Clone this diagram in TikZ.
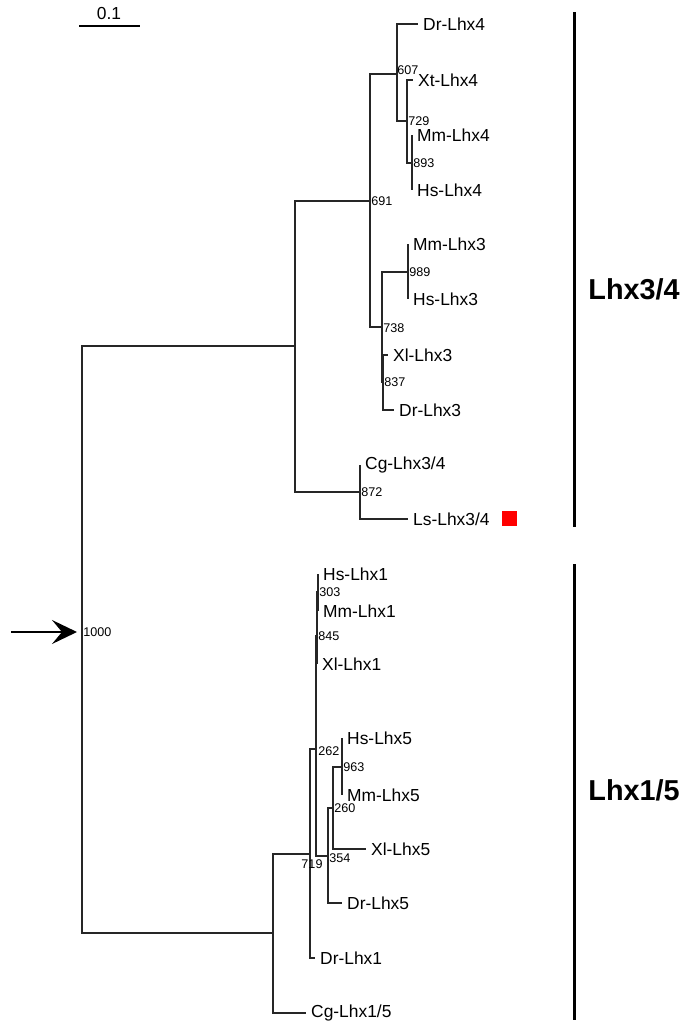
\documentclass[tikz,border=0pt]{standalone}
\usepackage{fontspec}
\setmainfont{Liberation Sans}
\usepackage{xcolor}
\usepackage{tikz}
\usetikzlibrary{arrows.meta}

\begin{document}
\begin{tikzpicture}[x=0.5pt,y=-0.5pt]
\tikzstyle{branch} = [line width=0.6pt, draw=black!85]
\tikzstyle{thickbranch} = [branch, line width=1.1pt]
\tikzstyle{leaf} = [anchor=west, inner xsep=2.4pt, inner ysep=0pt, font=\fontsize{8.7}{10}\selectfont]
\tikzstyle{boot} = [anchor=west, inner sep=0.5pt, font=\fontsize{6.3}{7}\selectfont]
\tikzstyle{clade} = [anchor=west, inner sep=0pt, font=\bfseries\fontsize{14.4}{16}\selectfont]
\tikzstyle{cladebar} = [line width=1.5pt]
%
\useasboundingbox (0,0) rectangle (685,1024);

	% internal nodes
	\coordinate (r) at (82,632);
	\coordinate (c34) at (295,346);
	\coordinate (n691) at (370,201);
	\coordinate (n607) at (397,74);
	\coordinate (n729) at (407,121);
	\coordinate (n893) at (412,163);
	\coordinate (n738) at (382,327);
	\coordinate (n989) at (408,272);
	\coordinate (n837) at (383,382);
	\coordinate (n872) at (360,492);
	\coordinate (c15) at (273,933);
	\coordinate (n719) at (310,854);
	\coordinate (n262) at (316,749);
	\coordinate (n845) at (317,636);
	\coordinate (n303) at (318,592);
	\coordinate (n354) at (328,856);
	\coordinate (n260) at (333,808);
	\coordinate (n963) at (342,767);

	% leaves
	\node[leaf] (drlhx4) at (418,24) {Dr-Lhx4};
	\node[leaf] (xtlhx4) at (413,80) {Xt-Lhx4};
	\node[leaf] (mmlhx4) at (412,135) {Mm-Lhx4};
	\node[leaf] (hslhx4) at (412,190) {Hs-Lhx4};
	\node[leaf] (mmlhx3) at (408,244) {Mm-Lhx3};
	\node[leaf] (hslhx3) at (408,299) {Hs-Lhx3};
	\node[leaf] (xllhx3) at (388,355) {Xl-Lhx3};
	\node[leaf] (drlhx3) at (394,410) {Dr-Lhx3};
	\node[leaf] (cglhx34) at (360,465) {Cg-Lhx3/4};
	\node[leaf] (lslhx34) at (408,519) {Ls-Lhx3/4};
	\node[leaf] (hslhx1) at (318,574) {Hs-Lhx1};
	\node[leaf] (mmlhx1) at (318,611) {Mm-Lhx1};
	\node[leaf] (xllhx1) at (317,664) {Xl-Lhx1};
	\node[leaf] (hslhx5) at (342,738) {Hs-Lhx5};
	\node[leaf] (mmlhx5) at (342,795) {Mm-Lhx5};
	\node[leaf] (xllhx5) at (366,849) {Xl-Lhx5};
	\node[leaf] (drlhx5) at (342,903) {Dr-Lhx5};
	\node[leaf] (drlhx1) at (315,958) {Dr-Lhx1};
	\node[leaf] (cglhx15) at (306,1013) {Cg-Lhx1/5};

	% branches
	\draw[branch] (r) |- (c34);
	\draw[branch] (r) |- (c15);
	\draw[branch] (c34) |- (n691);
	\draw[branch] (c34) |- (n872);
	\draw[branch] (n691) |- (n607);
	\draw[branch] (n691) |- (n738);
	\draw[branch] (n607) |- (drlhx4.west);
	\draw[branch] (n607) |- (n729);
	\draw[branch] (n729) |- (xtlhx4.west);
	\draw[branch] (n729) |- (n893);
	\draw[branch] (n893) |- (mmlhx4.west);
	\draw[branch] (n893) |- (hslhx4.west);
	\draw[branch] (n738) |- (n989);
	\draw[branch] (n738) |- (n837);
	\draw[branch] (n989) |- (mmlhx3.west);
	\draw[branch] (n989) |- (hslhx3.west);
	\draw[thickbranch] (n837) |- (xllhx3.west);
	\draw[thickbranch] (n837) |- (drlhx3.west);
	\draw[branch] (n872) |- (cglhx34.west);
	\draw[branch] (n872) |- (lslhx34.west);
	\draw[branch] (c15) |- (n719);
	\draw[branch] (c15) |- (cglhx15.west);
	\draw[branch] (n719) |- (n262);
	\draw[branch] (n719) |- (drlhx1.west);
	\draw[branch] (n262) |- (n845);
	\draw[branch] (n262) |- (n354);
	\draw[thickbranch] (n845) |- (n303);
	\draw[thickbranch] (n845) |- (xllhx1.west);
	\draw[thickbranch] (n303) |- (hslhx1.west);
	\draw[thickbranch] (n303) |- (mmlhx1.west);
	\draw[branch] (n354) |- (n260);
	\draw[branch] (n354) |- (drlhx5.west);
	\draw[branch] (n260) |- (n963);
	\draw[branch] (n260) |- (xllhx5.west);
	\draw[branch] (n963) |- (hslhx5.west);
	\draw[branch] (n963) |- (mmlhx5.west);

	% bootstrap values
	\node[boot] (b1000) at (r) {1000};
	\node[boot] (b691) at (n691) {691};
	\node[boot] (b607) at (396,70) {607};
	\node[boot] (b729) at (n729) {729};
	\node[boot] (b893) at (n893) {893};
	\node[boot] (b738) at (382,328) {738};
	\node[boot] (b989) at (n989) {989};
	\node[boot] (b837) at (n837) {837};
	\node[boot] (b872) at (n872) {872};
	\node[boot] (b303) at (n303) {303};
	\node[boot] (b845) at (n845) {845};
	\node[boot] (b262) at (317,751) {262};
	\node[boot] (b963) at (n963) {963};
	\node[boot] (b260) at (n260) {260};
	\node[boot] (b354) at (328,858) {354};
	\node[boot, anchor=center] (b719) at (312,864) {719};

	% marker
	\node[fill=red, minimum size=7.5pt, inner sep=0pt] (mark) at (509.5,518.5) {};

	% root arrow
	\coordinate (arrowtail) at (11,632);
	\coordinate (arrowhead) at (77,632);
	\draw[line width=1pt, -{Stealth[length=12.5pt, width=12pt, inset=5pt]}] (arrowtail) -- (arrowhead);

	% scale
	\coordinate (scaleA) at (79,26);
	\coordinate (scaleB) at (140,26);
	\draw[line width=0.75pt] (scaleA) -- (scaleB);
	\node[leaf, anchor=center, inner sep=0pt] (scalelabel) at (109,14) {0.1};

	% clades
	\coordinate (bar34a) at (574,12);
	\coordinate (bar34b) at (574,527);
	\coordinate (bar15a) at (574,564);
	\coordinate (bar15b) at (574,1020);
	\draw[cladebar] (bar34a) -- (bar34b);
	\draw[cladebar] (bar15a) -- (bar15b);
	\node[clade] (lhx34) at (588,289) {Lhx3/4};
	\node[clade] (lhx15) at (588,790) {Lhx1/5};
\end{tikzpicture}
\end{document}
